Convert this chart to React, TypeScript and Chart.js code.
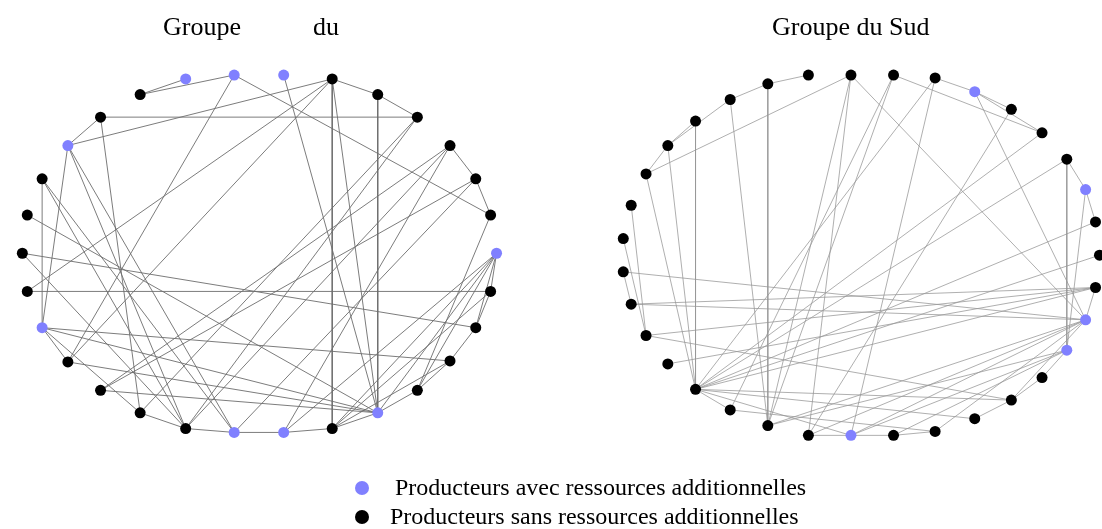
import React, { useEffect, useRef } from "react";
import { Chart, registerables } from "chart.js";

Chart.register(...registerables);

// ---- Left network ("Groupe du") : node layout positions (layout units) ----
const leftNodeX = [136, 182, 231, 281, 330, 376, 416, 449, 475, 490, 496, 490, 475, 449, 416, 376, 330, 281, 231, 182, 136, 96, 63, 37, 22, 17, 22, 37, 63, 96];
const leftNodeY = [91, 75, 71, 71, 75, 91, 114, 143, 177, 214, 253, 292, 329, 363, 393, 416, 432, 436, 436, 432, 416, 393, 364, 329, 292, 253, 214, 177, 143, 114];
// nodes (1-based) of producers with additional resources
const leftWithResources = [2, 3, 4, 11, 16, 18, 19, 24, 29];
const leftEdges = [
  [1, 2], [1, 3], [3, 10], [3, 23], [4, 16], [5, 17], [5, 16], [5, 29], [5, 25], [5, 23],
  [5, 6], [6, 7], [6, 16], [7, 30], [7, 21], [8, 22], [8, 20], [8, 18], [8, 9], [9, 22],
  [9, 19], [9, 10], [10, 15], [11, 12], [11, 16], [11, 17], [11, 18], [11, 15], [11, 13],
  [12, 25], [12, 17], [12, 13], [13, 26], [13, 14], [14, 24], [14, 15], [15, 16], [16, 17],
  [17, 18], [18, 19], [19, 20], [20, 21], [23, 24], [24, 28], [24, 29], [24, 16], [24, 21],
  [26, 20], [27, 16], [28, 20], [28, 19], [29, 20], [29, 19], [29, 30], [30, 21], [23, 16],
  [22, 16], [7, 20], [14, 17],
];

// ---- Right network ("Groupe du Sud") ----
const rightNodeX = [854, 897, 939, 979, 1016, 1047, 1072, 1091, 1101, 1105, 1101, 1091, 1072, 1047, 1016, 979, 939, 897, 854, 811, 770, 732, 697, 669, 647, 632, 624, 624, 632, 647, 669, 697, 732, 770, 811];
const rightNodeY = [71, 71, 74, 88, 106, 130, 157, 188, 221, 255, 288, 321, 352, 380, 403, 422, 435, 439, 439, 439, 429, 413, 392, 366, 337, 305, 272, 238, 204, 172, 143, 118, 96, 80, 71];
const rightWithResources = [4, 8, 12, 13, 19];
const rightEdges = [
  [35, 34], [34, 21], [34, 33], [33, 31], [32, 31], [31, 23], [30, 1], [30, 31], [30, 23],
  [32, 23], [33, 21], [29, 25], [28, 25], [27, 26], [1, 20], [1, 21], [1, 12], [2, 22],
  [2, 21], [2, 6], [3, 4], [4, 5], [4, 6], [3, 23], [3, 19], [4, 12], [5, 20], [6, 23],
  [7, 23], [7, 13], [7, 8], [8, 13], [8, 9], [9, 23], [27, 12], [26, 11], [26, 12],
  [25, 11], [25, 15], [24, 11], [23, 15], [23, 16], [23, 22], [23, 19], [23, 10], [23, 11],
  [21, 13], [20, 19], [19, 18], [18, 17], [16, 15], [15, 14], [14, 13], [12, 19], [12, 20],
  [12, 21], [12, 17], [12, 15], [13, 18], [13, 19], [22, 17], [11, 12],
];

const titleLeftWords = ["Groupe", "du"];
const titleRight = "Groupe du Sud";
const legendLabels = [
  "Producteurs avec ressources additionnelles",
  "Producteurs sans ressources additionnelles",
];

const BLUE = "#8080ff";
const BLACK = "#000000";
const FONT = "'Liberation Serif', 'DejaVu Serif', serif";

function buildDatasets(
  xs: number[],
  ys: number[],
  special: number[],
  edges: number[][],
  edgeColor: string,
  edgeWidth: number,
  radius: number
) {
  const ds: any[] = [];
  edges.forEach(([a, b]) => {
    ds.push({
      type: "scatter",
      data: [
        { x: xs[a - 1], y: ys[a - 1] },
        { x: xs[b - 1], y: ys[b - 1] },
      ],
      showLine: true,
      borderColor: edgeColor,
      borderWidth: edgeWidth,
      pointRadius: 0,
      pointHoverRadius: 0,
      order: 2,
      clip: false,
    });
  });
  const pts = xs.map((x, i) => ({ x, y: ys[i] }));
  ds.push({
    type: "scatter",
    data: pts,
    showLine: false,
    pointRadius: radius,
    pointHoverRadius: radius,
    pointBorderWidth: 0,
    pointBackgroundColor: pts.map((_, i) => (special.includes(i + 1) ? BLUE : BLACK)),
    pointBorderColor: pts.map((_, i) => (special.includes(i + 1) ? BLUE : BLACK)),
    order: 0,
    clip: false,
  });
  return ds;
}

export default function App() {
  const ref = useRef<HTMLCanvasElement | null>(null);

  useEffect(() => {
    if (!ref.current) return;
    const datasets = [
      ...buildDatasets(leftNodeX, leftNodeY, leftWithResources, leftEdges, "rgba(110,110,110,0.9)", 1, 5.5),
      ...buildDatasets(rightNodeX, rightNodeY, rightWithResources, rightEdges, "rgba(150,150,150,0.85)", 0.9, 5.5),
    ];
    const chart = new Chart(ref.current, {
      type: "scatter",
      data: { datasets },
      options: {
        responsive: false,
        maintainAspectRatio: false,
        animation: false,
        layout: { padding: 0 },
        plugins: { legend: { display: false }, tooltip: { enabled: false }, title: { display: false } },
        events: [],
        scales: {
          x: { type: "linear", min: 0, max: 1102, display: false },
          y: { type: "linear", min: 0, max: 529, reverse: true, display: false },
        },
      },
    });
    return () => chart.destroy();
  }, []);

  const textStyle = (size: number, left: number, centerY: number): React.CSSProperties => ({
    position: "absolute",
    left,
    top: centerY - 15,
    fontFamily: FONT,
    fontSize: size,
    lineHeight: "30px",
    color: "#000",
    whiteSpace: "nowrap",
  });
  const dot = (color: string, cy: number): React.CSSProperties => ({
    position: "absolute",
    left: 355,
    top: cy - 7,
    width: 14,
    height: 14,
    borderRadius: "50%",
    background: color,
  });

  return (
    <div style={{ position: "absolute", left: 0, top: 0, width: 1102, height: 529, background: "#fff", overflow: "hidden" }}>
      <canvas ref={ref} width={1102} height={529} style={{ position: "absolute", left: 0, top: 0, display: "block" }} />
      <div style={textStyle(26, 163, 27)}>{titleLeftWords[0]}</div>
      <div style={textStyle(26, 313, 27)}>{titleLeftWords[1]}</div>
      <div style={textStyle(26, 772, 27)}>{titleRight}</div>
      <div style={dot(BLUE, 488)} />
      <div style={textStyle(24, 395, 487)}>{legendLabels[0]}</div>
      <div style={dot(BLACK, 517)} />
      <div style={textStyle(24, 390, 516)}>{legendLabels[1]}</div>
    </div>
  );
}
